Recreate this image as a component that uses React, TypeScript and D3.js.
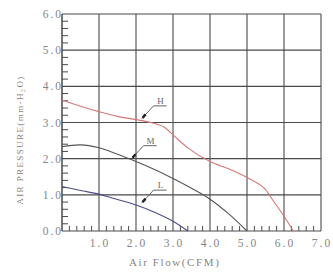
import * as d3 from "d3";
import { useEffect, useRef } from "react";

// curve values (CFM, mm-H2O)
const flowH = [0, 0.5, 1, 1.5, 2, 2.4, 2.75, 3, 3.4, 4, 4.5, 5, 5.45, 5.7, 5.9, 6.1, 6.25];
const presH = [3.62, 3.45, 3.3, 3.17, 3.08, 3.0, 2.88, 2.66, 2.3, 1.92, 1.72, 1.48, 1.2, 0.85, 0.56, 0.25, 0];
const flowM = [0, 0.5, 1, 1.5, 2, 2.5, 3, 3.5, 4, 4.5, 5];
const presM = [2.33, 2.38, 2.3, 2.12, 1.92, 1.7, 1.45, 1.18, 0.88, 0.48, 0];
const flowL = [0, 0.5, 1, 1.5, 2, 2.5, 3, 3.4];
const presL = [1.23, 1.12, 1.02, 0.87, 0.72, 0.52, 0.27, 0];

const xTicks = [1, 2, 3, 4, 5, 6, 7];
const yTicks = [0, 1, 2, 3, 4, 5, 6];
const curveNames = ["H", "M", "L"];
const labelAt = [
	[2.15, 3.1],
	[1.88, 2.0],
	[2.15, 0.77],
];

function App() {
	const ref = useRef<SVGSVGElement>(null);

	useEffect(() => {
		const svg = d3.select(ref.current);
		svg.selectAll("*").remove();

		const x = d3.scaleLinear().domain([0, 7]).range([62, 321]);
		const y = d3.scaleLinear().domain([0, 6]).range([231, 14]);
		const grid = "#4a4a4a";
		const textCol = "#858585";
		const font = "'Liberation Serif', 'DejaVu Serif', serif";

		// grid
		svg.append("g")
			.selectAll("line")
			.data(xTicks)
			.enter()
			.append("line")
			.attr("x1", (d) => x(d))
			.attr("x2", (d) => x(d))
			.attr("y1", y(0))
			.attr("y2", y(6))
			.attr("stroke", grid)
			.attr("stroke-width", 1.1);
		svg.append("g")
			.selectAll("line")
			.data(yTicks)
			.enter()
			.append("line")
			.attr("x1", x(0))
			.attr("x2", x(7))
			.attr("y1", (d) => y(d))
			.attr("y2", (d) => y(d))
			.attr("stroke", grid)
			.attr("stroke-width", 1.1);
		svg.append("line")
			.attr("x1", x(0))
			.attr("x2", x(0))
			.attr("y1", y(0))
			.attr("y2", y(6))
			.attr("stroke", grid)
			.attr("stroke-width", 1.5);

		// minor ticks every 0.2
		const minorX = d3.range(0, 35).map((i) => i * 0.2).filter((v) => Math.abs(v - Math.round(v)) > 0.01);
		const minorY = d3.range(0, 30).map((i) => i * 0.2).filter((v) => Math.abs(v - Math.round(v)) > 0.01);
		svg.append("g")
			.selectAll("line")
			.data(minorX)
			.enter()
			.append("line")
			.attr("x1", (d) => x(d))
			.attr("x2", (d) => x(d))
			.attr("y1", y(0))
			.attr("y2", y(0) - 5)
			.attr("stroke", grid)
			.attr("stroke-width", 1);
		svg.append("g")
			.selectAll("line")
			.data(minorY)
			.enter()
			.append("line")
			.attr("x1", x(0))
			.attr("x2", x(0) + 6)
			.attr("y1", (d) => y(d))
			.attr("y2", (d) => y(d))
			.attr("stroke", grid)
			.attr("stroke-width", 1);

		// tick labels
		svg.append("g")
			.selectAll("text")
			.data(yTicks)
			.enter()
			.append("text")
			.attr("x", x(0) + 1)
			.attr("y", (d) => y(d) + 4)
			.attr("text-anchor", "end")
			.attr("font-family", font)
			.attr("font-size", 11.5)
			.attr("letter-spacing", 2)
			.attr("fill", textCol)
			.text((d) => d3.format(".1f")(d));
		svg.append("g")
			.selectAll("text")
			.data(xTicks)
			.enter()
			.append("text")
			.attr("x", (d) => x(d) + 1)
			.attr("y", y(0) + 16)
			.attr("text-anchor", "middle")
			.attr("font-family", font)
			.attr("font-size", 11.5)
			.attr("letter-spacing", 2)
			.attr("fill", textCol)
			.text((d) => d3.format(".1f")(d));

		// axis titles
		svg.append("text")
			.attr("x", 129)
			.attr("y", 266)
			.attr("font-family", font)
			.attr("font-size", 11)
			.attr("letter-spacing", 1.6)
			.attr("fill", textCol)
			.text("Air Flow(CFM)");
		svg.append("text")
			.attr("transform", "translate(23,140) rotate(-90)")
			.attr("text-anchor", "middle")
			.attr("font-family", font)
			.attr("font-size", 9)
			.attr("letter-spacing", 1.4)
			.attr("fill", textCol)
			.text("AIR PRESSURE(mm-H₂O)");

		// curves
		const series = [
			{ xs: flowH, ys: presH, color: "#d47878" },
			{ xs: flowM, ys: presM, color: "#555555" },
			{ xs: flowL, ys: presL, color: "#4d4d88" },
		];
		const line = d3
			.line<[number, number]>()
			.x((d) => x(d[0]))
			.y((d) => y(d[1]))
			.curve(d3.curveCatmullRom.alpha(0.5));
		series.forEach((s) => {
			const pts = s.xs.map((v, i) => [v, s.ys[i]] as [number, number]);
			svg.append("path")
				.attr("d", line(pts))
				.attr("fill", "none")
				.attr("stroke", s.color)
				.attr("stroke-width", 1.1);
		});

		// labels with leaders
		curveNames.forEach((name, i) => {
			const ax = x(labelAt[i][0]);
			const ay = y(labelAt[i][1]);
			const g = svg.append("g");
			g.append("path")
				.attr("d", `M${ax},${ay} L${ax + 12},${ay - 13} L${ax + 25},${ay - 13}`)
				.attr("fill", "none")
				.attr("stroke", "#555")
				.attr("stroke-width", 0.9);
			g.append("line")
				.attr("x1", ax + 1)
				.attr("y1", ay - 1)
				.attr("x2", ax + 4)
				.attr("y2", ay - 4.5)
				.attr("stroke", "#222")
				.attr("stroke-width", 2.4);
			g.append("text")
				.attr("x", ax + 19)
				.attr("y", ay - 15)
				.attr("text-anchor", "middle")
				.attr("font-family", font)
				.attr("font-size", 9)
				.attr("fill", "#666")
				.text(name);
		});
	}, []);

	return <svg ref={ref} width={333} height={274} style={{ position: "absolute", left: 0, top: 0, background: "#fff" }}></svg>;
}

export default App;
